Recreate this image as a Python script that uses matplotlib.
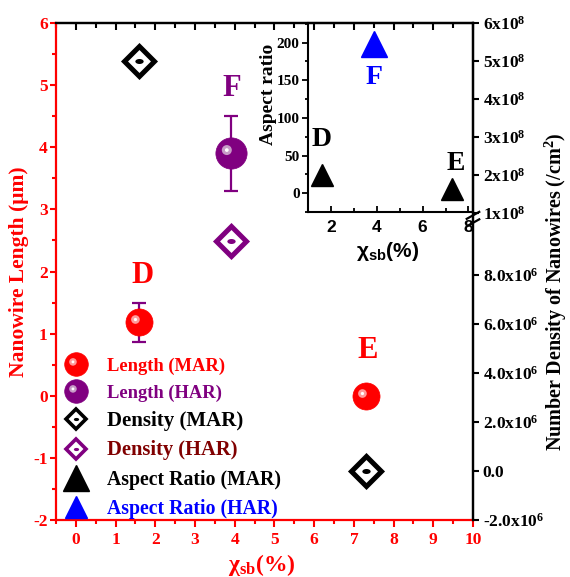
import numpy as np
import matplotlib
matplotlib.use('Agg')
import matplotlib.pyplot as plt
from matplotlib.path import Path
from matplotlib.lines import Line2D
from matplotlib.legend_handler import HandlerTuple
from matplotlib.ticker import MultipleLocator, NullLocator

plt.rcParams['font.family'] = ['Liberation Serif', 'DejaVu Serif']
plt.rcParams['font.weight'] = 'bold'
plt.rcParams['axes.labelweight'] = 'bold'
plt.rcParams['axes.unicode_minus'] = False
plt.rcParams['mathtext.fontset'] = 'custom'
plt.rcParams['mathtext.rm'] = 'Liberation Serif:weight=bold'
plt.rcParams['mathtext.bf'] = 'Liberation Serif:weight=bold'
plt.rcParams['mathtext.it'] = 'Liberation Serif:style=italic:weight=bold'
plt.rcParams['mathtext.sf'] = 'Liberation Sans:weight=bold'
plt.rcParams['mathtext.default'] = 'rm'

### data ###
# nanowire length (um) -> left axis
len_mar_x   = [1.6, 7.3]
len_mar_y   = [1.18, 0.0]
len_mar_err = [0.32, 0.0]
len_har_x   = [3.9]
len_har_y   = [3.9]
len_har_err = [0.6]

# number density (/cm2) -> right (broken) axis
dens_mar_x = [1.6, 7.3]
dens_mar_y = [5.0e8, 0.0]
dens_har_x = [3.9]
dens_har_y = [9.4e6]

# aspect ratio -> inset
ar_mar_x = [1.6, 7.3]
ar_mar_y = [24, 5]
ar_har_x = [3.9]
ar_har_y = [198]

# sample letters (main axes: length units, inset: aspect ratio units)
main_names  = ['D', 'E', 'F']
main_name_x = [1.67, 7.34, 3.92]
main_name_y = [1.93, 0.73, 4.95]
ins_name_x  = [1.6, 7.43, 3.87]
ins_name_y  = [71, 40, 153]

dens_ticks = [-2e6, 0, 2e6, 4e6, 6e6, 8e6, 1e8, 2e8, 3e8, 4e8, 5e8, 6e8]
dens_labels = ['-2.0x10$^6$', '0.0', '2.0x10$^6$', '4.0x10$^6$', '6.0x10$^6$',
               '8.0x10$^6$', '1x10$^8$', '2x10$^8$', '3x10$^8$', '4x10$^8$',
               '5x10$^8$', '6x10$^8$']

RED = '#ff0000'
PURPLE = '#800080'
MAROON = '#800000'
BLUE = '#0000ff'

################ helpers ################
# broken right axis: two linear pieces joined by a short squeezed gap
brk_v = np.array([-2e6, 1.0e7, 1.0e8, 6e8])
brk_u = np.array([-2.0, 2.734, 2.94, 6.0])

def _pw(x, xs, ys):
    x = np.asarray(x, float)
    y = np.interp(x, xs, ys)
    s0 = (ys[1] - ys[0]) / (xs[1] - xs[0])
    s1 = (ys[-1] - ys[-2]) / (xs[-1] - xs[-2])
    y = np.where(x < xs[0], ys[0] + (x - xs[0]) * s0, y)
    y = np.where(x > xs[-1], ys[-1] + (x - xs[-1]) * s1, y)
    return y

def fwd(v):
    return _pw(v, brk_v, brk_u)

def inv(u):
    return _pw(u, brk_u, brk_v)

def offset_blob(cx, cy, r, sy=1.0):
    # small circle placed off-centre inside the marker box
    c = Path.unit_circle()
    verts = c.vertices * [r, r * sy] + [cx, cy]
    blob = Path(verts, c.codes)
    box = Path([(1, 1), (-1, -1)], [Path.MOVETO, Path.MOVETO])
    return Path.make_compound_path(blob, box)

hl_ring = offset_blob(-0.3, 0.22, 0.32)
hl_core = offset_blob(-0.3, 0.22, 0.12)
dot = offset_blob(0, 0, 1.0, 0.6)

def sphere(a, x, y, col, light, ms):
    a.plot(x, y, 'o', ms=ms, color=col, mec=col, mew=0.5, zorder=4, ls='none')
    a.plot(x, y, marker=hl_ring, ms=ms, color=light, mew=0, zorder=5, ls='none')
    a.plot(x, y, marker=hl_core, ms=ms, color='white', mew=0, zorder=6, ls='none')

def sphere_handle(col, light, ms):
    return (Line2D([], [], ls='none', marker='o', ms=ms, color=col, mec=col, mew=0.5),
            Line2D([], [], ls='none', marker=hl_ring, ms=ms, color=light, mew=0),
            Line2D([], [], ls='none', marker=hl_core, ms=ms, color='white', mew=0))

def diamond_handle(col, ms, mew):
    return (Line2D([], [], ls='none', marker='D', ms=ms, mfc='white', mec=col, mew=mew),
            Line2D([], [], ls='none', marker=dot, ms=ms * 0.38, color=col, mew=0))

def bold_ticks(a):
    for lab in a.get_xticklabels() + a.get_yticklabels():
        lab.set_fontweight('bold')

################ figure ################
fig = plt.figure(figsize=(5.7, 5.77), dpi=100)
ax = fig.add_axes([0.0982, 0.0988, 0.7316, 0.8613])
ax.set_xlim(-0.5, 10)
ax.set_ylim(-2, 6)

ax.xaxis.set_major_locator(MultipleLocator(1))
ax.xaxis.set_minor_locator(MultipleLocator(0.5))
ax.yaxis.set_major_locator(MultipleLocator(1))
ax.yaxis.set_minor_locator(MultipleLocator(0.5))
ax.tick_params(axis='both', which='both', colors=RED, labelsize=12.5, width=1.5)
ax.tick_params(axis='x', which='major', direction='out', length=5, pad=4)
ax.tick_params(axis='x', which='minor', direction='out', length=3)
ax.tick_params(axis='y', which='major', direction='out', length=4.5, pad=1.5)
ax.tick_params(axis='y', which='minor', direction='out', length=3)
bold_ticks(ax)
for s in ['left', 'bottom']:
    ax.spines[s].set_color(RED)
    ax.spines[s].set_linewidth(1.6)
for s in ['top', 'right']:
    ax.spines[s].set_color('black')
    ax.spines[s].set_linewidth(1.6)

ax.set_xlabel('χ$_{sb}$(%)', color=RED, fontsize=17)
ax.xaxis.set_label_coords(0.494, -0.064)
ax.set_ylabel('Nanowire Length (μm)', color=RED, fontsize=15.5)
ax.yaxis.set_label_coords(-0.065, 0.5)

# top ticks pointing inward
top = ax.secondary_xaxis('top')
top.xaxis.set_major_locator(MultipleLocator(1))
top.xaxis.set_minor_locator(MultipleLocator(0.5))
top.tick_params(which='both', direction='in', labeltop=False, colors='black', width=1.5)
top.tick_params(which='major', length=5)
top.tick_params(which='minor', length=3.5)
top.spines['top'].set_color('black')
top.spines['top'].set_linewidth(1.6)

# length data
ax.errorbar(len_mar_x, len_mar_y, yerr=len_mar_err, fmt='none', ecolor=PURPLE,
            elinewidth=1.6, capsize=5, capthick=1.6, zorder=3)
ax.errorbar(len_har_x, len_har_y, yerr=len_har_err, fmt='none', ecolor=PURPLE,
            elinewidth=1.6, capsize=5, capthick=1.6, zorder=3)
sphere(ax, len_mar_x, len_mar_y, RED, '#ff9a9a', 19.5)
sphere(ax, len_har_x, len_har_y, PURPLE, '#c79bc7', 22.5)

name_cols = [RED, RED, PURPLE]
for n, x, y, c in zip(main_names, main_name_x, main_name_y, name_cols):
    ax.text(x, y, n, color=c, fontsize=22, ha='center', va='center')

# density on broken right axis
ax2 = ax.twinx()
ax2.set_yscale('function', functions=(fwd, inv))
ax2.set_ylim(-2e6, 6e8)
ax2.set_yticks(dens_ticks, dens_labels)
ax2.yaxis.set_minor_locator(NullLocator())
ax2.tick_params(axis='y', direction='out', length=4, width=1.5, pad=3,
                labelsize=12.5, colors='black')
bold_ticks(ax2)
for s in ['left', 'bottom']:
    ax2.spines[s].set_visible(False)
ax2.spines['right'].set_color('black')
ax2.spines['right'].set_linewidth(1.6)
ax2.spines['top'].set_visible(False)
ax2.set_ylabel('Number Density of Nanowires (/cm$^2$)', fontsize=14.5)
ax2.yaxis.set_label_coords(1.168, 0.459)

ax2.plot(dens_mar_x, dens_mar_y, ls='none', marker='D', ms=15, mfc='white',
         mec='black', mew=3.6, zorder=4)
ax2.plot(dens_mar_x, dens_mar_y, ls='none', marker=dot, ms=6, color='black', mew=0, zorder=5)
ax2.plot(dens_har_x, dens_har_y, ls='none', marker='D', ms=15, mfc='white',
         mec=PURPLE, mew=3.6, zorder=4)
ax2.plot(dens_har_x, dens_har_y, ls='none', marker=dot, ms=6, color=PURPLE, mew=0, zorder=5)

# break marks on the right spine
for yc in [0.613, 0.598]:
    ax2.plot([0.985, 1.015], [yc - 0.007, yc + 0.007], transform=ax2.transAxes,
             color='black', lw=1.6, clip_on=False, zorder=10)

# legend
handles = [sphere_handle(RED, '#ff9a9a', 17),
           sphere_handle(PURPLE, '#c79bc7', 17),
           diamond_handle('black', 10, 2.6),
           diamond_handle(PURPLE, 10, 2.6),
           Line2D([], [], ls='none', marker='^', ms=19, color='black'),
           Line2D([], [], ls='none', marker='^', ms=16.5, color=BLUE)]
labels = ['Length (MAR)', 'Length (HAR)', 'Density (MAR)', 'Density (HAR)',
          'Aspect Ratio (MAR)', 'Aspect Ratio (HAR)']
leg = ax.legend(handles, labels, loc='upper left', bbox_to_anchor=(0.02, 0.328),
                frameon=False, borderpad=0, borderaxespad=0, handlelength=1.2,
                handletextpad=1.0, labelspacing=0.48, fontsize=14,
                handler_map={tuple: HandlerTuple(ndivide=1)})
txt_cols = [RED, PURPLE, 'black', MAROON, 'black', BLUE]
txt_size = [13.3, 13.3, 15, 14.8, 14.2, 14.2]
for t, c, s in zip(leg.get_texts(), txt_cols, txt_size):
    t.set_color(c)
    t.set_fontsize(s)
    t.set_fontweight('bold')

# inset: aspect ratio
ins = fig.add_axes([0.5404, 0.6326, 0.2895, 0.3275])
ins.set_facecolor('none')
ins.set_xlim(1.0, 8.2)
ins.set_ylim(-25, 226)
ins.xaxis.set_major_locator(MultipleLocator(2))
ins.xaxis.set_minor_locator(MultipleLocator(1))
ins.yaxis.set_major_locator(MultipleLocator(50))
ins.yaxis.set_minor_locator(MultipleLocator(25))
ins.tick_params(axis='x', which='both', direction='in', width=1.3, pad=6, labelsize=12.5)
ins.tick_params(axis='x', which='major', length=4.5)
ins.tick_params(axis='x', which='minor', length=3)
ins.tick_params(axis='y', which='both', direction='out', width=1.3, pad=2, labelsize=11)
ins.tick_params(axis='y', which='major', length=4)
ins.tick_params(axis='y', which='minor', length=2.5)
bold_ticks(ins)
for lab in ins.get_xticklabels():
    lab.set_fontfamily('Liberation Sans')
for s in ins.spines.values():
    s.set_linewidth(1.5)
ins.set_xlabel(r'$\mathsf{\chi_{sb}}$(%)', fontsize=15, family='Liberation Sans')
ins.xaxis.set_label_coords(0.48, -0.15)
ins.set_ylabel('Aspect ratio', fontsize=14)
ins.yaxis.set_label_coords(-0.19, 0.62)

ins.plot(ar_mar_x, ar_mar_y, ls='none', marker='^', ms=16.5, color='black')
ins.plot(ar_har_x, ar_har_y, ls='none', marker='^', ms=18.5, color=BLUE)
ins_cols = ['black', 'black', BLUE]
for n, x, y, c in zip(main_names, ins_name_x, ins_name_y, ins_cols):
    ins.text(x, y, n, color=c, fontsize=20, ha='center', va='center')

fig.savefig('out.png', dpi=100)
